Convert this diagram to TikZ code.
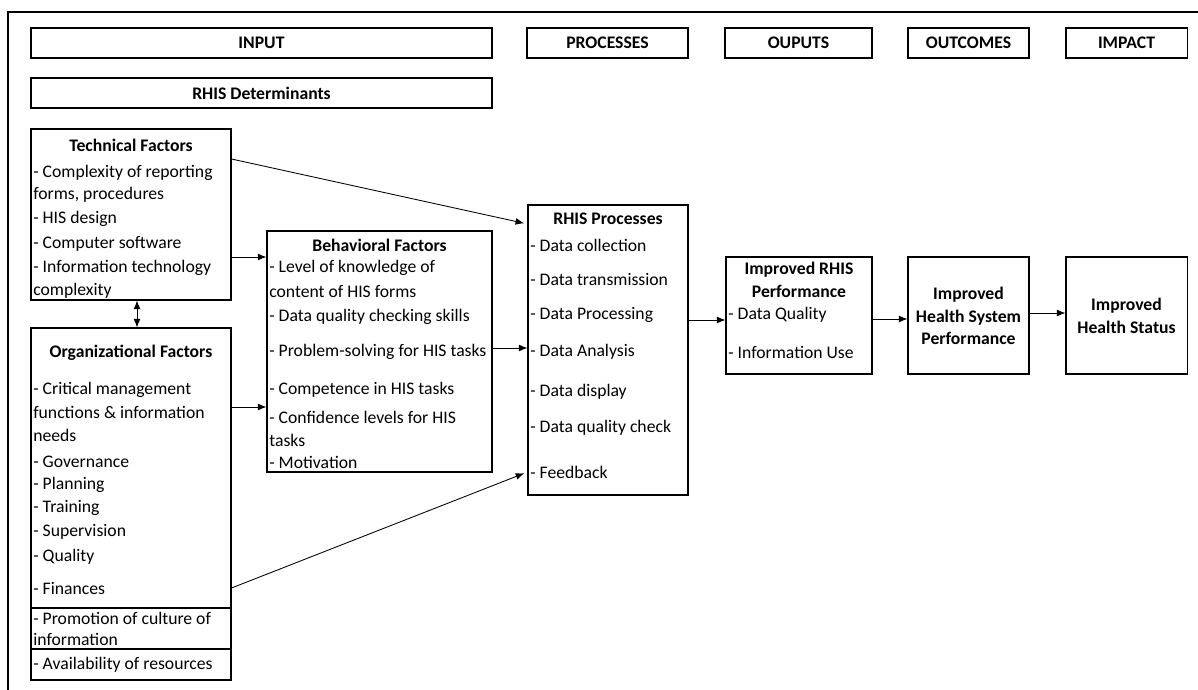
\documentclass[tikz,border=0pt]{standalone}
\usepackage{fontspec}
\setmainfont{Carlito}
\usepackage{tikz}
\usetikzlibrary{arrows.meta}
\usetikzlibrary{positioning}
\usetikzlibrary{fit}

\begin{document}
\begin{tikzpicture}[x=0.5833pt, y=-0.5833pt, node font=\fontsize{10.3}{13}\selectfont,
	frm/.style={draw, inner sep=0pt, line width=0.6pt},
	hdr/.style={frm, label={[font=\bfseries]center:#1}},
	ttl/.style={font=\bfseries, inner sep=0pt, align=center},
	itm/.style={anchor=west, inner sep=0pt},
	arr/.style={-{Latex[length=5pt,width=4pt]}, line width=0.5pt}]
			\useasboundingbox (0,0) rectangle (1198,690);
			\draw[line width=0.8pt] (8,690) -- (8,12) -- (1198,12);
			\foreach \nm/\xa/\xb/\txt in {inp/31/492/INPUT, prc/527/688/PROCESSES, out/725/872/OUPUTS, otc/908/1029/OUTCOMES, imp/1066/1187/IMPACT}
			{
				\node[hdr=\txt, fit={(\xa,28) (\xb,58)}] (\nm) {};
			}
			\node[hdr={RHIS Determinants}, fit={(31,78) (492,108)}] (det) {};
			\node[frm, fit={(31,129) (231,300)}] (tech) {};
			\node[frm, fit={(267,231) (492,472)}] (beh) {};
			\node[frm, fit={(31,328) (231,680)}] (org) {};
			\node[frm, fit={(528,205) (688,495)}] (proc) {};
			\node[frm, fit={(726,257) (872,374)}] (perf) {};
			\node[frm, fit={(908,257) (1029,374)}] (hsp) {};
			\node[frm, fit={(1066,257) (1187,374)}] (hst) {};
			\draw[line width=0.6pt] (org.west |- 0,608) -- (org.east |- 0,608);
			\draw[line width=0.6pt] (org.west |- 0,649) -- (org.east |- 0,649);
			\node[ttl] (techT) at (tech.center |- 0,145) {Technical Factors};
			\node[ttl] (behT) at (beh.center |- 0,245) {Behavioral Factors};
			\node[ttl] (orgT) at (org.center |- 0,353) {Organizational Factors};
			\node[ttl] (procT) at (proc.center |- 0,219) {RHIS Processes};
			\node[ttl] (perfT) at (perf.center |- 0,280) {Improved RHIS\\Performance};
			\node[ttl] (hspT) at (hsp.center |- 0,316) {Improved\\Health System\\Performance};
			\node[ttl] (hstT) at (hst.center |- 0,316) {Improved\\Health Status};
			\foreach \y/\t[count=\i] in {173/{- Complexity of reporting}, 195/{forms, procedures}, 219/{- HIS design}, 244/{- Computer software}, 268/{- Information technology}, 291/{complexity}}
			{
				\node[itm] (tech\i) at (33,\y) {\t};
			}
			\foreach \y/\t[count=\i] in {268/{- Level of knowledge of}, 292/{content of HIS forms}, 317/{- Data quality checking skills}, 352/{- Problem-solving for HIS tasks}, 390/{- Competence in HIS tasks}, 417/{- Confidence levels for HIS}, 440/{tasks}, 462/{- Motivation}}
			{
				\node[itm] (beh\i) at (269,\y) {\t};
			}
			\foreach \y/\t[count=\i] in {390/{- Critical management}, 412/{functions \& information}, 435/{needs}, 462/{- Governance}, 485/{- Planning}, 508/{- Training}, 532/{- Supervision}, 557/{- Quality}, 588/{- Finances}, 618/{- Promotion of culture of}, 639/{information}, 665/{- Availability of resources}}
			{
				\node[itm] (org\i) at (33,\y) {\t};
			}
			\foreach \y/\t[count=\i] in {245/{- Data collection}, 279/{- Data transmission}, 315/{- Data Processing}, 352/{- Data Analysis}, 392/{- Data display}, 428/{- Data quality check}, 472/{- Feedback}}
			{
				\node[itm] (proc\i) at (530,\y) {\t};
			}
			\node[itm] (perf1) at (728,315) {- Data Quality};
			\node[itm] (perf2) at (728,352) {- Information Use};
			\draw[arr, shorten >=2pt] (tech.east |- 0,159) -- (proc.west |- 0,224);
			\draw[arr] (tech.east |- 0,257) -- (beh.west |- 0,257);
			\draw[{Latex[length=5pt,width=4pt]}-{Latex[length=5pt,width=4pt]}, line width=0.5pt] (tech.south -| 137,0) -- (org.north -| 137,0);
			\draw[arr] (org.east |- 0,407) -- (beh.west |- 0,407);
			\draw[arr] (beh.east |- 0,348) -- (proc.west |- 0,348);
			\draw[arr, shorten >=2pt] (org.east |- 0,588) -- (proc.west |- 0,472);
			\draw[arr] (proc.east |- 0,320) -- (perf.west |- 0,320);
			\draw[arr] (perf.east |- 0,319) -- (hsp.west |- 0,319);
			\draw[arr] (hsp.east |- 0,313) -- (hst.west |- 0,313);
		\end{tikzpicture}
\end{document}
